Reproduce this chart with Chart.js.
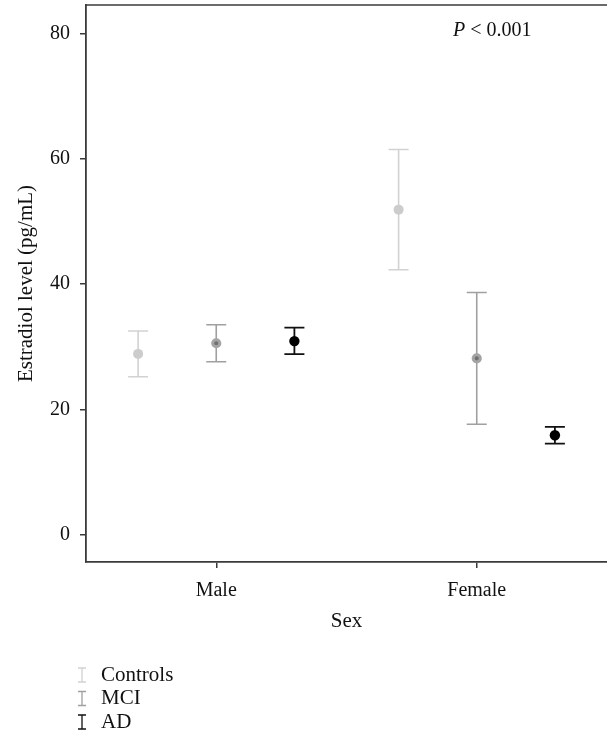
<!DOCTYPE html>
<html>
<head>
<meta charset="utf-8">
<script src="https://cdn.jsdelivr.net/npm/chart.js@4.4.1/dist/chart.umd.min.js"></script>
<style>
  html, body { margin: 0; padding: 0; background: #fff; }
</style>
</head>
<body>
<canvas id="myChart" width="607" height="737"></canvas>
<script>
// values
const sexes = ['Male', 'Female'];
const groups = ['Controls', 'MCI', 'AD'];
const controlsMean = [28.85, 51.9];
const controlsLow = [25.2, 42.3];
const controlsHigh = [32.5, 61.5];
const mciMean = [30.55, 28.15];
const mciLow = [27.6, 17.6];
const mciHigh = [33.5, 38.65];
const adMean = [30.9, 15.85];
const adLow = [28.8, 14.5];
const adHigh = [33.05, 17.2];
const yTicks = [0, 20, 40, 60, 80];
const pText = '< 0.001';

const FONT = "'Liberation Serif', 'DejaVu Serif', serif";
const AXIS = '#3a3a3a';

const means = [controlsMean, mciMean, adMean];
const lows = [controlsLow, mciLow, adLow];
const highs = [controlsHigh, mciHigh, adHigh];
const dodge = [-0.3, 0, 0.3];
const looks = [
	{ bar: '#d2d2d2', fill: '#cccccc', border: '#cccccc', bw: 0, r: 5, lw: 1.6 },
	{ bar: '#a0a0a0', fill: '#707070', border: '#a4a4a4', bw: 3, r: 3.6, lw: 1.6 },
	{ bar: '#111111', fill: '#000000', border: '#000000', bw: 0, r: 5.2, lw: 1.8 }
];

const datasets = groups.map((g, i) => ({
	label: g,
	data: sexes.map((s, j) => ({
		x: j + 1 + dodge[i],
		y: means[i][j],
		lo: lows[i][j],
		hi: highs[i][j]
	})),
	pointRadius: looks[i].r,
	pointHoverRadius: looks[i].r,
	pointBackgroundColor: looks[i].fill,
	pointBorderColor: looks[i].border,
	pointBorderWidth: looks[i].bw,
	barColor: looks[i].bar,
	barWidth: looks[i].lw
}));

const errorBars = {
	id: 'errorBars',
	beforeDatasetsDraw(chart) {
		const { ctx } = chart;
		const y = chart.scales.y;
		chart.data.datasets.forEach((ds, i) => {
			const meta = chart.getDatasetMeta(i);
			ctx.save();
			ctx.strokeStyle = ds.barColor;
			ctx.lineWidth = ds.barWidth;
			meta.data.forEach((pt, j) => {
				const d = ds.data[j];
				const top = y.getPixelForValue(d.hi);
				const bot = y.getPixelForValue(d.lo);
				ctx.beginPath();
				ctx.moveTo(pt.x, top);
				ctx.lineTo(pt.x, bot);
				ctx.moveTo(pt.x - 10, top);
				ctx.lineTo(pt.x + 10, top);
				ctx.moveTo(pt.x - 10, bot);
				ctx.lineTo(pt.x + 10, bot);
				ctx.stroke();
			});
			ctx.restore();
		});
	}
};

const extras = {
	id: 'extras',
	afterDraw(chart) {
		const { ctx, chartArea } = chart;
		ctx.save();
		// top frame line
		ctx.strokeStyle = AXIS;
		ctx.lineWidth = 1.5;
		ctx.beginPath();
		ctx.moveTo(chartArea.left, chartArea.top);
		ctx.lineTo(chartArea.right, chartArea.top);
		ctx.stroke();

		// P value note
		ctx.fillStyle = '#111';
		ctx.textBaseline = 'alphabetic';
		ctx.textAlign = 'left';
		const px = chartArea.right - 154;
		const py = chartArea.top + 31;
		ctx.font = 'italic 20px ' + FONT;
		ctx.fillText('P', px, py);
		const w = ctx.measureText('P ').width;
		ctx.font = '20px ' + FONT;
		ctx.fillText(pText, px + w, py);

		// legend, one row per group
		ctx.font = '21px ' + FONT;
		ctx.textBaseline = 'middle';
		chart.data.datasets.forEach((ds, i) => {
			const ly = 675 + i * 23.5;
			const lx = 82;
			ctx.strokeStyle = ds.barColor;
			ctx.lineWidth = 1.3;
			ctx.beginPath();
			ctx.moveTo(lx, ly - 7);
			ctx.lineTo(lx, ly + 7);
			ctx.moveTo(lx - 4, ly - 7);
			ctx.lineTo(lx + 4, ly - 7);
			ctx.moveTo(lx - 4, ly + 7);
			ctx.lineTo(lx + 4, ly + 7);
			ctx.stroke();
			ctx.fillStyle = '#111';
			ctx.fillText(ds.label, 101, ly);
		});
		ctx.restore();
	}
};

new Chart(document.getElementById('myChart'), {
	type: 'scatter',
	data: { datasets },
	options: {
		responsive: false,
		devicePixelRatio: 1,
		animation: false,
		layout: {
			autoPadding: false,
			padding: { top: 5, right: 0, left: 0, bottom: 0 }
		},
		plugins: {
			legend: { display: false },
			tooltip: { enabled: false }
		},
		scales: {
			x: {
				type: 'linear',
				position: 'bottom',
				min: 0.5,
				max: 2.5,
				afterBuildTicks: (s) => {
					s.ticks = sexes.map((n, i) => ({ value: i + 1 }));
				},
				afterFit: (s) => {
					s.height = 175;
					s.paddingLeft = 0;
					s.paddingRight = 0;
				},
				ticks: {
					callback: (v) => sexes[v - 1],
					font: { family: FONT, size: 20 },
					color: '#111',
					padding: 11,
					maxRotation: 0
				},
				grid: {
					display: true,
					drawOnChartArea: false,
					drawTicks: true,
					tickLength: 6,
					color: AXIS,
					lineWidth: 1.5
				},
				border: { display: true, color: AXIS, width: 1.8 },
				title: {
					display: true,
					text: 'Sex',
					font: { family: FONT, size: 21 },
					color: '#111',
					padding: { top: 0, bottom: 103 }
				}
			},
			y: {
				min: -4.4,
				max: 84.6,
				afterBuildTicks: (s) => {
					s.ticks = yTicks.map((v) => ({ value: v }));
				},
				afterFit: (s) => {
					s.width = 86;
					s.paddingTop = 0;
					s.paddingBottom = 0;
				},
				ticks: {
					font: { family: FONT, size: 20 },
					color: '#111',
					padding: 10
				},
				grid: {
					display: true,
					drawOnChartArea: false,
					drawTicks: true,
					tickLength: 6,
					color: AXIS,
					lineWidth: 1.5
				},
				border: { display: true, color: AXIS, width: 1.8 },
				title: {
					display: true,
					text: 'Estradiol level (pg/mL)',
					font: { family: FONT, size: 21 },
					color: '#111',
					padding: { top: 14, bottom: 0 }
				}
			}
		}
	},
	plugins: [errorBars, extras]
});
</script>
</body>
</html>
